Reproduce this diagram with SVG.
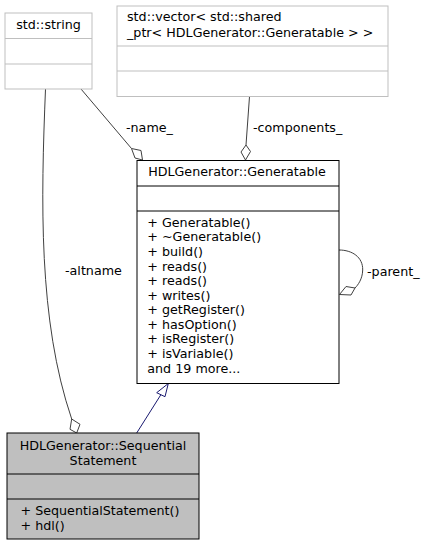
<svg xmlns="http://www.w3.org/2000/svg" width="427" height="545" viewBox="0 0 427 545">
<style>
text { font-family: "DejaVu Sans", "Liberation Sans", sans-serif; font-size: 12.7px; fill: #000; }
.mid { text-anchor: middle; }
.ext { fill: #fff; stroke: #bfbfbf; stroke-width: 1; }
.cls { fill: #fff; stroke: #000; stroke-width: 1; }
.cur { fill: #bfbfbf; stroke: #000; stroke-width: 1; }
.dep { fill: none; stroke: #404040; stroke-width: 1; }
.dia { fill: #fff; stroke: #404040; stroke-width: 1; }
.inh { fill: none; stroke: #191970; stroke-width: 1; }
.tri { fill: #fff; stroke: #191970; stroke-width: 1; }
</style>
<rect width="427" height="545" fill="#fff"/>
<g id="connectors">
  <path class="dep" d="M45.5,89 C41,200 38,320 71.7,419"/>
  <polygon class="dia" points="71.7,419 80,424.3 76.7,433 70,429.3"/>
  <text x="65" y="275">-altname</text>
  <path class="dep" d="M81,89 L131.5,148.5"/>
  <polygon class="dia" points="131.5,148.5 141,150.5 142.5,160 135,158"/>
  <text x="126" y="132">-name_</text>
  <path class="dep" d="M249.5,96.5 L246,145"/>
  <polygon class="dia" points="246,145 250.5,151.5 245.5,160 241,152"/>
  <text x="253" y="132">-components_</text>
  <path class="dep" d="M339,250 C352,250 363,257 362.7,270 C362.5,279 358,285 355,288"/>
  <polygon class="dia" points="355,288 351,295 339.5,294.5 346,286.5"/>
  <text x="367" y="276">-parent_</text>
  <path class="inh" d="M136.7,433 L161,394.5"/>
  <polygon class="tri" points="168.3,383.5 165,396.7 156.7,392.7"/>
</g>
<g id="node-string">
  <rect class="ext" x="5" y="13" width="87" height="76"/>
  <line class="ext" x1="5" y1="38.5" x2="92" y2="38.5"/>
  <line class="ext" x1="5" y1="64" x2="92" y2="64"/>
  <text class="mid" x="48.5" y="29">std::string</text>
</g>
<g id="node-vector">
  <rect class="ext" x="117" y="6" width="271" height="90.5"/>
  <line class="ext" x1="117" y1="46" x2="388" y2="46"/>
  <line class="ext" x1="117" y1="71" x2="388" y2="71"/>
  <text x="127" y="21">std::vector&lt; std::shared</text>
  <text x="127" y="37">_ptr&lt; HDLGenerator::Generatable &gt; &gt;</text>
</g>
<g id="node-generatable">
  <rect class="cls" x="137" y="160.5" width="202" height="223"/>
  <line class="cls" x1="137" y1="186" x2="339" y2="186"/>
  <line class="cls" x1="137" y1="211" x2="339" y2="211"/>
  <text class="mid" x="237" y="176.3">HDLGenerator::Generatable</text>
  <text x="147.3" y="226.8">+ Generatable()</text>
  <text x="147.3" y="241.4">+ ~Generatable()</text>
  <text x="147.3" y="255.9">+ build()</text>
  <text x="147.3" y="270.5">+ reads()</text>
  <text x="147.3" y="285.1">+ reads()</text>
  <text x="147.3" y="299.7">+ writes()</text>
  <text x="147.3" y="314.2">+ getRegister()</text>
  <text x="147.3" y="328.8">+ hasOption()</text>
  <text x="147.3" y="343.4">+ isRegister()</text>
  <text x="147.3" y="357.9">+ isVariable()</text>
  <text x="147.3" y="372.5">and 19 more...</text>
</g>
<g id="node-sequential">
  <rect class="cur" x="7" y="433" width="192" height="106"/>
  <line class="cur" x1="7" y1="474" x2="199" y2="474"/>
  <line class="cur" x1="7" y1="499" x2="199" y2="499"/>
  <text class="mid" x="103" y="450.2">HDLGenerator::Sequential</text>
  <text class="mid" x="103" y="464.5">Statement</text>
  <text x="20.5" y="515">+ SequentialStatement()</text>
  <text x="20.5" y="529.5">+ hdl()</text>
</g>
</svg>
